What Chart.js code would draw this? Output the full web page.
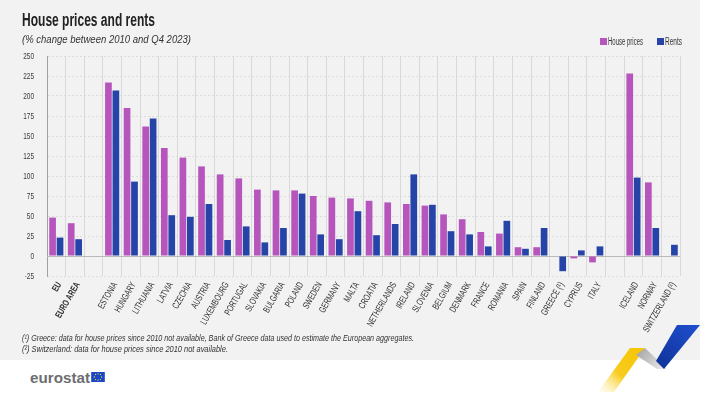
<!DOCTYPE html>
<html>
<head>
<meta charset="utf-8">
<script src="https://cdn.jsdelivr.net/npm/chart.js@4/dist/chart.umd.min.js"></script>
<style>
  html,body{margin:0;padding:0;background:#fff;}
  body{width:721px;height:398px;position:relative;overflow:hidden;font-family:"Liberation Sans",Arial,sans-serif;}
  #bg{position:absolute;left:0;top:0;width:700px;height:360px;background:#f2f2f2;}
  .t{position:absolute;white-space:nowrap;display:inline-block;transform-origin:0 50%;line-height:1;}
  #title{left:22px;top:11px;font-size:18px;font-weight:bold;color:#222;}
  #subtitle{left:22px;top:34px;font-size:11px;font-style:italic;color:#333;}
  .lgtxt{top:37px;font-size:10px;color:#333;}
  .sw{position:absolute;width:7px;height:7px;top:38px;}
  .note{left:22px;font-size:9.5px;font-style:italic;color:#333;}
  #chartwrap{position:absolute;left:0;top:0;width:721px;height:360px;}
  #logo{left:30px;top:370px;font-weight:bold;font-size:15px;color:#6d6e71;}
  #deco{position:absolute;left:0;top:0;}
</style>
</head>
<body>
<div id="bg"></div>
<div id="chartwrap"><canvas id="c" width="721" height="360"></canvas></div>
<div id="title" class="t">House prices and rents</div>
<div id="subtitle" class="t">(% change between 2010 and Q4 2023)</div>
<div id="note1" class="t note" style="top:333px">(¹) Greece: data for house prices since 2010 not available, Bank of Greece data used to estimate the European aggregates.</div>
<div id="note2" class="t note" style="top:344px">(²) Switzerland: data for house prices since 2010 not available.</div>
<div id="logo" class="t">eurostat</div>
<svg style="position:absolute;left:91px;top:372px" width="14" height="10" viewBox="0 0 15 11"><rect width="15" height="11" fill="#1a47c9"/><g fill="#ffdd00"><circle cx="7.5" cy="2" r="0.7"/><circle cx="10.2" cy="2.7" r="0.7"/><circle cx="11.5" cy="5.5" r="0.7"/><circle cx="10.2" cy="8.3" r="0.7"/><circle cx="7.5" cy="9" r="0.7"/><circle cx="4.8" cy="8.3" r="0.7"/><circle cx="3.5" cy="5.5" r="0.7"/><circle cx="4.8" cy="2.7" r="0.7"/></g></svg>
<svg id="deco" width="721" height="398">
  <defs>
    <linearGradient id="gy" x1="645" y1="348" x2="600" y2="398" gradientUnits="userSpaceOnUse">
      <stop offset="0" stop-color="#f6c400"/><stop offset="0.55" stop-color="#f8cc20"/><stop offset="1" stop-color="#fff3c0" stop-opacity="0"/>
    </linearGradient>
    <linearGradient id="gg" x1="640" y1="350" x2="665" y2="369" gradientUnits="userSpaceOnUse">
      <stop offset="0" stop-color="#a9a9a9"/><stop offset="1" stop-color="#ececec"/>
    </linearGradient>
    <linearGradient id="gb" x1="700" y1="325" x2="660" y2="368" gradientUnits="userSpaceOnUse">
      <stop offset="0" stop-color="#1f4fd0"/><stop offset="1" stop-color="#10339a"/>
    </linearGradient>
  </defs>
  <polygon points="630,348 645,348 614,392 598,392" fill="url(#gy)"/>
  <polygon points="636,355 645,348 667,369 657,369" fill="url(#gg)"/>
  <polygon points="677,325 700,325 664,369 656,361" fill="url(#gb)"/>
</svg>
<script>
const categories = ['EU','EURO AREA','','ESTONIA','HUNGARY','LITHUANIA','LATVIA','CZECHIA','AUSTRIA','LUXEMBOURG','PORTUGAL','SLOVAKIA','BULGARIA','POLAND','SWEDEN','GERMANY','MALTA','CROATIA','NETHERLANDS','IRELAND','SLOVENIA','BELGIUM','DENMARK','FRANCE','ROMANIA','SPAIN','FINLAND','GREECE (¹)','CYPRUS','ITALY','','ICELAND','NORWAY','SWITZERLAND (²)'];
const housePrices = [48,41,null,217,185,162,135,123,112,102,97,83,82,82,75,73,72,69,67,65,63,52,46,30,28,11,11,null,-3,-8,null,228,92,null];
const rents = [23,21,null,207,93,172,51,49,65,20,37,17,35,78,27,21,56,26,40,102,64,31,27,12,44,9,35,-19,7,12,null,98,35,14];
const seriesNames = ['House prices','Rents'];
const seriesColors = ['#b656bd','#2644a7'];
const yTicks = {min:-25, max:250, step:25};

// condense HTML text to measured widths of the reference
function fit(el, w){ const nat = el.getBoundingClientRect().width; el.style.transform = 'scaleX(' + (w/nat) + ')'; }

// legend built from series names
const legendPos = [{sw:600, tx:608, w:35},{sw:657, tx:665, w:17}];
seriesNames.forEach((n,i)=>{
  const sw = document.createElement('div'); sw.className='sw'; sw.style.left=legendPos[i].sw+'px'; sw.style.background=seriesColors[i];
  document.body.appendChild(sw);
  const t = document.createElement('div'); t.className='t lgtxt'; t.style.left=legendPos[i].tx+'px'; t.textContent=n;
  document.body.appendChild(t); fit(t, legendPos[i].w);
});
fit(document.getElementById('title'), 133);
fit(document.getElementById('subtitle'), 169);
fit(document.getElementById('note1'), 392);
fit(document.getElementById('note2'), 206);
fit(document.getElementById('logo'), 60);

const zeroLine = {
  id:'zeroLine',
  beforeDatasetsDraw(chart){
    const y = chart.scales.y.getPixelForValue(0);
    const ctx = chart.ctx, a = chart.chartArea;
    ctx.save(); ctx.strokeStyle='#b9b9b9'; ctx.lineWidth=1;
    ctx.beginPath(); ctx.moveTo(a.left, Math.round(y)+0.5); ctx.lineTo(a.right, Math.round(y)+0.5); ctx.stroke(); ctx.restore();
  }
};

// condensed tick labels, drawn from the scales' own ticks
const condensedTicks = {
  id:'condensedTicks',
  afterDraw(chart){
    const ctx = chart.ctx, xs = chart.scales.x, ys = chart.scales.y;
    ctx.save();
    ctx.fillStyle = '#3a3a3a';
    ctx.font = '9.5px "Liberation Sans", Arial, sans-serif';
    ctx.textAlign = 'right'; ctx.textBaseline = 'middle';
    ys.ticks.forEach((t,i)=>{
      const y = ys.getPixelForTick(i);
      ctx.save(); ctx.translate(ys.right - 13, y); ctx.scale(0.68,1); ctx.fillText(String(t.value),0,0); ctx.restore();
    });
    ctx.fillStyle = '#2e2e2e';
    xs.ticks.forEach((t,i)=>{
      const lbl = chart.data.labels[t.value];
      if(!lbl) return;
      const x = xs.getPixelForTick(i);
      ctx.save();
      ctx.translate(x + 3, xs.top + 7);
      ctx.rotate(-Math.PI/3);
      ctx.scale(0.7,1);
      ctx.font = (i<2 ? 'bold ' : '') + '9.5px "Liberation Sans", Arial, sans-serif';
      ctx.textAlign = 'right'; ctx.textBaseline = 'middle';
      ctx.fillText(lbl,0,0);
      ctx.restore();
    });
    ctx.restore();
  }
};

new Chart(document.getElementById('c'), {
  type:'bar',
  data:{
    labels:categories,
    datasets:[
      {label:seriesNames[0], data:housePrices, backgroundColor:seriesColors[0], categoryPercentage:0.8, barPercentage:0.9},
      {label:seriesNames[1], data:rents, backgroundColor:seriesColors[1], categoryPercentage:0.8, barPercentage:0.9}
    ]
  },
  options:{
    responsive:false, animation:false,
    layout:{padding:{top:56,left:0,right:41,bottom:24}},
    plugins:{legend:{display:false}, tooltip:{enabled:false}, title:{display:false}},
    scales:{
      x:{
        grid:{color:'#d9d9d9', lineWidth:1, drawTicks:false, offset:true},
        border:{display:false},
        afterFit(s){ s.height = 60; },
        ticks:{display:false, autoSkip:false}
      },
      y:{
        min:yTicks.min, max:yTicks.max,
        afterFit(s){ s.width = 47; },
        grid:{color:'#dcdcdc', lineWidth:1, drawTicks:false},
        border:{display:true, color:'#a0a0a0', dash:[2,2]},
        ticks:{display:false, stepSize:yTicks.step}
      }
    }
  },
  plugins:[zeroLine, condensedTicks]
});
</script>
</body>
</html>
